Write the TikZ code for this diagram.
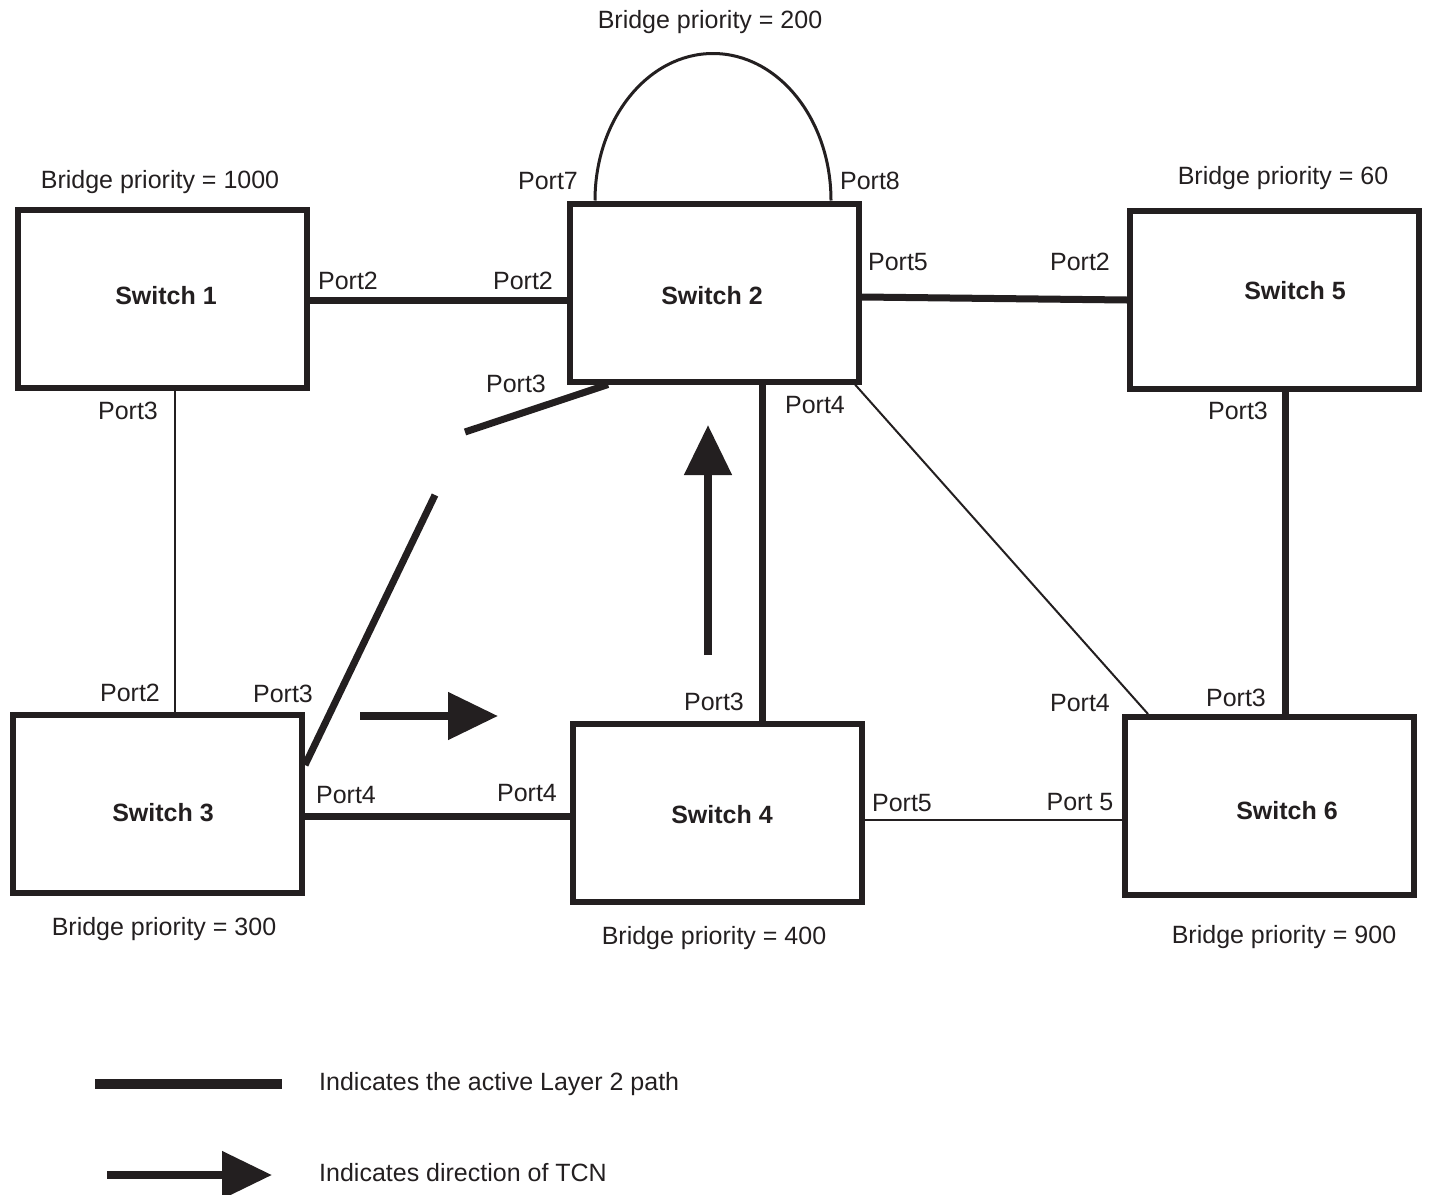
\documentclass[tikz,border=0pt]{standalone}
\usepackage{fontspec}
\setmainfont{Liberation Sans}
\usetikzlibrary{arrows.meta}
\definecolor{ink}{RGB}{35,31,32}

\begin{document}
\begin{tikzpicture}[x=1pt, y=-1pt,
  every node/.style={font=\fontsize{25}{30}\selectfont, inner sep=0pt, text=ink},
  swbox/.style={draw=ink, line width=6pt, minimum width=289pt, minimum height=178pt},
  swname/.style={font=\fontsize{25}{30}\selectfont\bfseries},
  active/.style={draw=ink, line width=7pt},
  backup/.style={draw=ink, line width=2pt},
  tcn/.style={draw=ink, line width=8pt, -{Triangle[length=50pt,width=46pt]}}]
  \useasboundingbox (0,0) rectangle (1429,1194);

  % switches
  \node[swbox] (s1) at (162.5,298.5) {};
  \node[swbox] (s2) at (714.5,292.5) {};
  \node[swbox] (s5) at (1274.5,300) {};
  \node[swbox] (s3) at (157.5,803.5) {};
  \node[swbox] (s4) at (717.5,812.5) {};
  \node[swbox] (s6) at (1269,806) {};

  \node[swname] (n1) at (166,296) {Switch 1};
  \node[swname] (n2) at (712,296) {Switch 2};
  \node[swname] (n5) at (1295,291) {Switch 5};
  \node[swname] (n3) at (163,813) {Switch 3};
  \node[swname] (n4) at (722,815) {Switch 4};
  \node[swname] (n6) at (1287,811) {Switch 6};

  \node (p1) at (160,182) {Bridge priority = 1000};
  \node (p2) at (710,22) {Bridge priority = 200};
  \node (p5) at (1283,178) {Bridge priority = 60};
  \node (p3) at (164,929) {Bridge priority = 300};
  \node (p4) at (714,938) {Bridge priority = 400};
  \node (p6) at (1284,937) {Bridge priority = 900};

  % links
  \draw[backup, line width=3pt] (s2.north -| 595,0) arc[start angle=180, end angle=0, x radius=118pt, y radius=147pt];
  \draw[active] (s1.east |- 0,300) -- (s2.west |- 0,300);
  \draw[active] (s2.east |- 0,297) -- (s5.west |- 0,300);
  \draw[backup] (s1.south -| 175,0) -- (s3.north -| 175,0);
  \coordinate (g1) at (465,432);
  \coordinate (g2) at (435,495);
  \draw[active] (s2.south -| 608,0) -- (g1);
  \draw[active] (g2) -- (s3.east |- 0,765);
  \draw[active] (s3.east |- 0,816) -- (s4.west |- 0,816);
  \draw[active] (s2.south -| 762,0) -- (s4.north -| 762,0);
  \draw[backup] (s2.south -| 855,0) -- (s6.north -| 1148,0);
  \draw[active] (s5.south -| 1285,0) -- (s6.north -| 1285,0);
  \draw[backup] (s4.east |- 0,820) -- (s6.west |- 0,820);

  % ports
  \node (q7) at (548,181) {Port7};
  \node (q8) at (870,181) {Port8};
  \node (q12) at (348,281) {Port2};
  \node (q13) at (128,411) {Port3};
  \node (q22) at (523,281) {Port2};
  \node (q25) at (898,262) {Port5};
  \node (q23) at (516,384) {Port3};
  \node (q24) at (815,405) {Port4};
  \node (q52) at (1080,262) {Port2};
  \node (q53) at (1238,411) {Port3};
  \node (q32) at (130,693) {Port2};
  \node (q33) at (283,694) {Port3};
  \node (q34) at (346,795) {Port4};
  \node (q44) at (527,793) {Port4};
  \node (q43) at (714,702) {Port3};
  \node (q45) at (902,803) {Port5};
  \node (q64) at (1080,703) {Port4};
  \node (q63) at (1236,698) {Port3};
  \node (q65) at (1080,802) {Port 5};

  % TCN
  \coordinate (t1) at (360,716);
  \coordinate (t2) at (498,716);
  \coordinate (u1) at (708,655);
  \coordinate (u2) at (708,425);
  \draw[tcn] (t1) -- (t2);
  \draw[tcn] (u1) -- (u2);

  % legend
  \coordinate (l1) at (95,1084);
  \coordinate (l2) at (282,1084);
  \coordinate (l3) at (107,1175);
  \coordinate (l4) at (272,1175);
  \draw[active, line width=10pt] (l1) -- (l2);
  \draw[tcn] (l3) -- (l4);
  \node[anchor=west] (k1) at (319,1084) {Indicates the active Layer 2 path};
  \node[anchor=west] (k2) at (319,1173) {Indicates direction of TCN};
\end{tikzpicture}
\end{document}
